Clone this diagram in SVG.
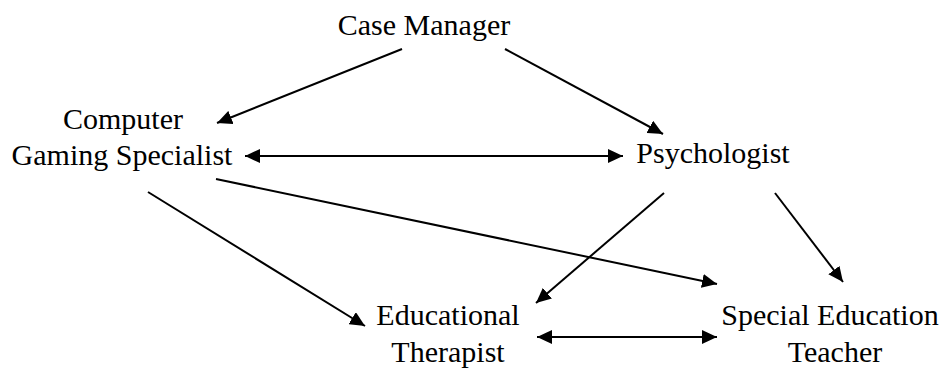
<svg xmlns="http://www.w3.org/2000/svg" width="946" height="370" viewBox="0 0 946 370">
  <style>
    .lbl { font-family: "Liberation Serif", "Times New Roman", serif; font-size: 30px; fill: #000; text-anchor: middle; }
    .edge { stroke: #000; stroke-width: 2; fill: none; }
  </style>
  <defs>
    <marker id="arrowEnd" markerUnits="userSpaceOnUse" markerWidth="16" markerHeight="14" refX="15" refY="7" orient="auto">
      <path d="M0,0 L15,7 L0,14 Z" fill="#000"/>
    </marker>
    <marker id="arrowStart" markerUnits="userSpaceOnUse" markerWidth="16" markerHeight="14" refX="1" refY="7" orient="auto">
      <path d="M16,0 L1,7 L16,14 Z" fill="#000"/>
    </marker>
  </defs>
  <rect width="946" height="370" fill="#fff"/>

  <g id="case-manager">
    <text class="lbl" x="424" y="35">Case Manager</text>
  </g>
  <g id="computer-gaming-specialist">
    <text class="lbl" x="123" y="129">Computer</text>
    <text class="lbl" x="122" y="165">Gaming Specialist</text>
  </g>
  <g id="psychologist">
    <text class="lbl" x="713" y="163">Psychologist</text>
  </g>
  <g id="educational-therapist">
    <text class="lbl" x="448" y="325">Educational</text>
    <text class="lbl" x="448" y="362">Therapist</text>
  </g>
  <g id="special-education-teacher">
    <text class="lbl" x="830" y="325">Special Education</text>
    <text class="lbl" x="835" y="362">Teacher</text>
  </g>

  <g id="connectors">
    <line class="edge" x1="402" y1="49" x2="217" y2="123" marker-end="url(#arrowEnd)"/>
    <line class="edge" x1="505" y1="49" x2="663" y2="134" marker-end="url(#arrowEnd)"/>
    <line class="edge" x1="245" y1="156" x2="623" y2="156" marker-start="url(#arrowStart)" marker-end="url(#arrowEnd)"/>
    <line class="edge" x1="148" y1="192" x2="365" y2="326" marker-end="url(#arrowEnd)"/>
    <line class="edge" x1="216" y1="179" x2="717" y2="284" marker-end="url(#arrowEnd)"/>
    <line class="edge" x1="664" y1="193" x2="536" y2="303" marker-end="url(#arrowEnd)"/>
    <line class="edge" x1="775" y1="193" x2="843" y2="282" marker-end="url(#arrowEnd)"/>
    <line class="edge" x1="537" y1="337" x2="717" y2="337" marker-start="url(#arrowStart)" marker-end="url(#arrowEnd)"/>
  </g>
</svg>
